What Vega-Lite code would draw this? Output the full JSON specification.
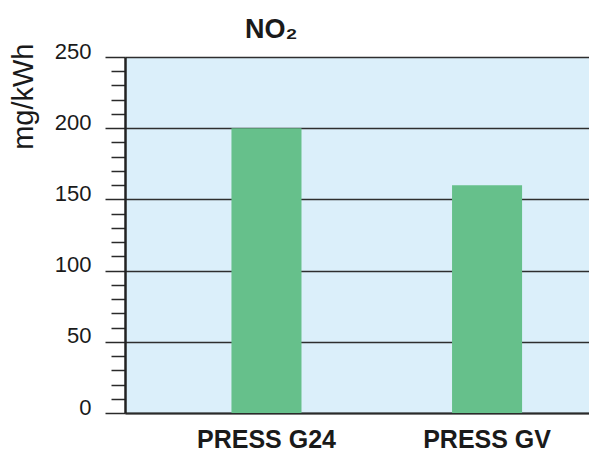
{
  "$schema": "https://vega.github.io/schema/vega-lite/v6.json",
  "width": 464,
  "height": 356,
  "autosize": {"type": "none"},
  "padding": {"left": 125, "top": 57, "right": 0, "bottom": 41},
  "background": "white",
  "title": {
    "text": "NO₂",
    "anchor": "start",
    "frame": "group",
    "dx": 120,
    "offset": 0,
    "dy": 4,
    "font": "Liberation Sans",
    "fontSize": 27,
    "fontWeight": "bold",
    "color": "#1a1a1a"
  },
  "config": {
    "view": {"fill": "#dbeffa", "stroke": null},
    "font": "Liberation Sans"
  },
  "data": {
    "values": [
      {"model": "PRESS G24", "value": 200},
      {"model": "PRESS GV", "value": 160}
    ]
  },
  "mark": {"type": "bar", "color": "#66c08b"},
  "encoding": {
    "x": {
      "field": "model",
      "type": "nominal",
      "sort": null,
      "scale": {"paddingInner": 0.6825, "paddingOuter": 0.393, "align": 0.614},
      "axis": {
        "title": null,
        "labelAngle": 0,
        "labelFont": "Liberation Sans",
        "labelFontSize": 25,
        "labelFontWeight": "bold",
        "labelColor": "#1a1a1a",
        "labelPadding": 14,
        "labelBaseline": "top",
        "ticks": false,
        "domainColor": "#2a2a2a",
        "domainWidth": 2
      }
    },
    "y": {
      "field": "value",
      "type": "quantitative",
      "scale": {"domain": [0, 250], "nice": false},
      "axis": {
        "title": "mg/kWh",
        "titleFont": "Liberation Sans",
        "titleFontSize": 29,
        "titleFontWeight": "normal",
        "titleColor": "#1a1a1a",
        "titleAngle": -90,
        "titleAlign": "right",
        "titleBaseline": "alphabetic",
        "titleX": -93,
        "titleY": -14,
        "values": [0,10,20,30,40,50,60,70,80,90,100,110,120,130,140,150,160,170,180,190,200,210,220,230,240,250],
        "labelExpr": "datum.value % 50 === 0 ? datum.label : ''",
        "labelFont": "Liberation Sans",
        "labelFontSize": 22,
        "labelColor": "#1a1a1a",
        "labelBaseline": "alphabetic",
        "labelOffset": 1,
        "labelPadding": 14,
        "tickSize": {"condition": {"test": "datum.value % 50 === 0", "value": 20}, "value": 14},
        "tickColor": "#2a2a2a",
        "tickWidth": 1.5,
        "grid": true,
        "gridColor": "#2e2e2e",
        "gridWidth": 1.6,
        "gridOpacity": {"condition": {"test": "datum.value % 50 === 0", "value": 1}, "value": 0},
        "domainColor": "#222222",
        "domainWidth": 2.5
      }
    }
  }
}
